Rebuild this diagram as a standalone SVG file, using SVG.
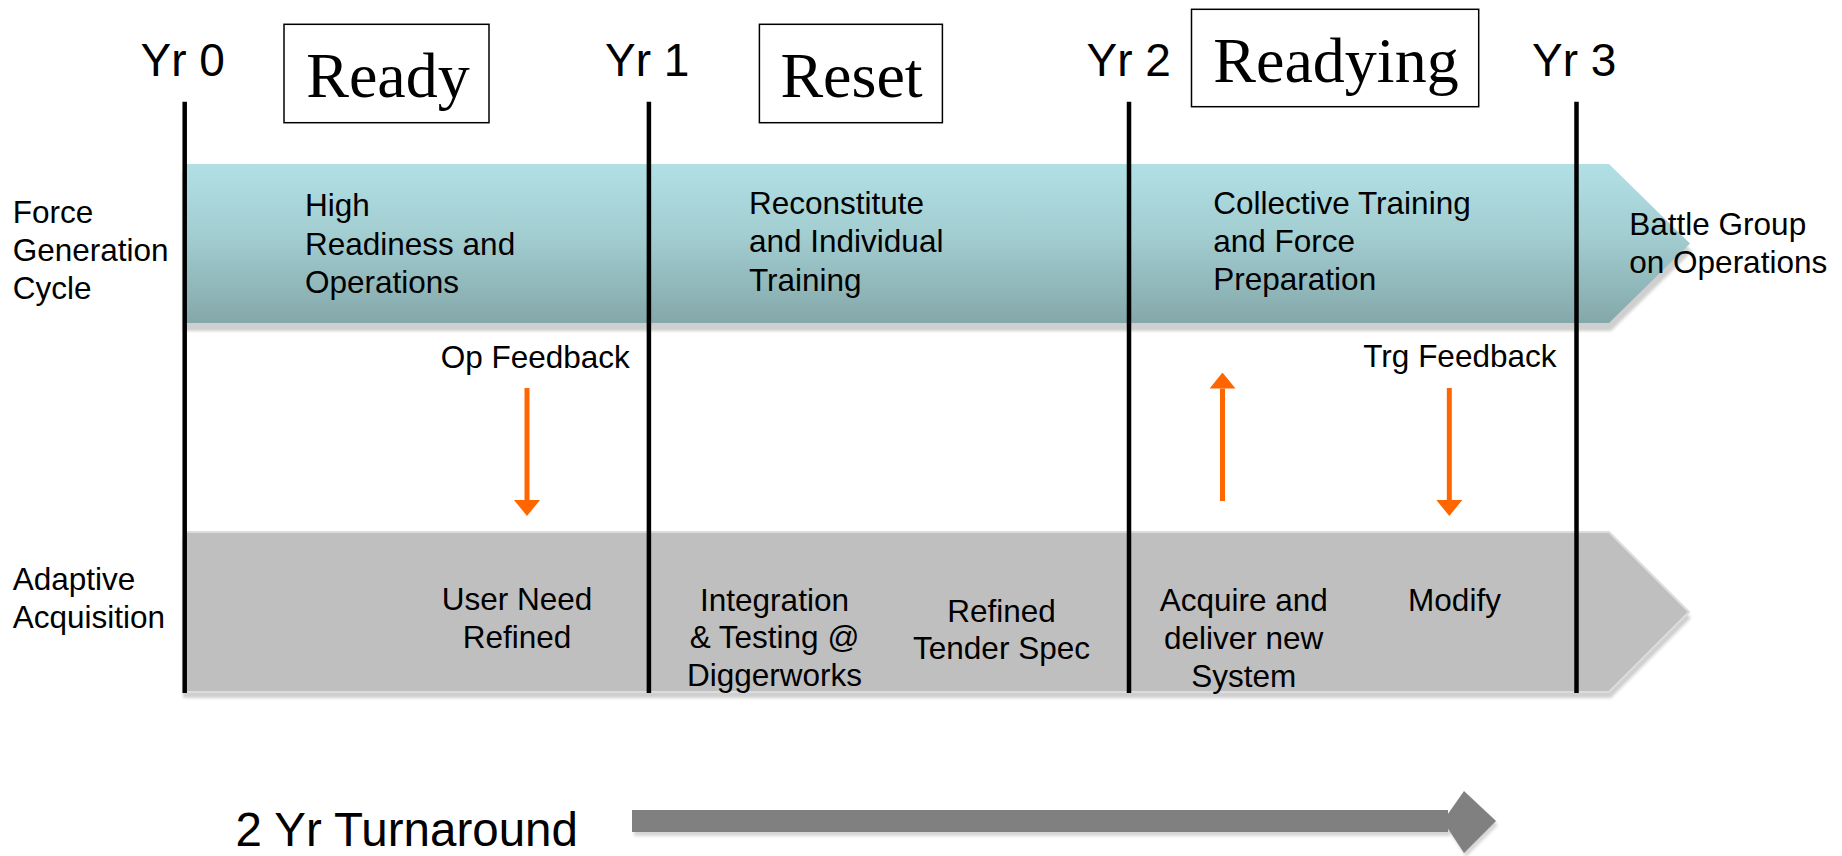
<svg xmlns="http://www.w3.org/2000/svg" width="1842" height="856" viewBox="0 0 1842 856">
  <defs>
    <linearGradient id="teal" x1="0" y1="0" x2="0" y2="1">
      <stop offset="0" stop-color="#B1E0E4"/>
      <stop offset="0.45" stop-color="#A2CDD1"/>
      <stop offset="1" stop-color="#84A8AA"/>
    </linearGradient>
    <filter id="soft" x="-5%" y="-20%" width="110%" height="140%">
      <feGaussianBlur stdDeviation="1.5"/>
    </filter>
    <marker id="head" viewBox="0 0 16 26" refX="0" refY="13" markerWidth="16" markerHeight="26" markerUnits="userSpaceOnUse" orient="auto">
      <path d="M0,0 L16,13 L0,26 Z" fill="#FF6600"/>
    </marker>
  </defs>
  <style>
    .t { font-family: "Liberation Sans", Arial, sans-serif; font-size: 31.5px; fill: #000; }
    .yr { font-family: "Liberation Sans", Arial, sans-serif; font-size: 46px; fill: #000; }
    .big { font-family: "Liberation Sans", Arial, sans-serif; font-size: 47.5px; fill: #000; }
    .ph { font-family: "Liberation Serif", "Times New Roman", serif; font-size: 64px; fill: #000; text-anchor: middle; }
    .box { fill: #fff; stroke: #000; stroke-width: 1.5; }
    .mid { text-anchor: middle; }
    .yl { stroke: #000; stroke-width: 4.5; }
    .fb { stroke: #FF6600; stroke-width: 5; fill: none; marker-end: url(#head); }
    .shadow { fill: #CFCFCF; filter: url(#soft); }
  </style>
  <rect width="1842" height="856" fill="#fff"/>

  <g id="bands">
    <polygon class="shadow" points="183,172 1611,172 1692,251.5 1611,331 183,331"/>
    <polygon id="force-band" points="184,164 1609,164 1690,243.5 1609,323 184,323" fill="url(#teal)"/>
    <polygon class="shadow" points="183,538 1611,538 1691,618 1611,698 183,698"/>
    <polygon id="acq-band" points="184,532 1609,532 1689,612 1609,692 184,692" fill="#BFBFBF" stroke="#DCDCDC" stroke-width="2"/>
  </g>

  <g id="phase-ready">
    <rect class="box" x="284" y="24.3" width="205" height="98.4"/>
    <text class="ph" x="388" y="97">Ready</text>
  </g>
  <g id="phase-reset">
    <rect class="box" x="759.4" y="24.3" width="183" height="98.4"/>
    <text class="ph" x="851.5" y="97">Reset</text>
  </g>
  <g id="phase-readying">
    <rect class="box" x="1191.5" y="9.3" width="287.2" height="97.4"/>
    <text class="ph" x="1336" y="82">Readying</text>
  </g>

  <g id="yr0"><text class="yr" x="140.6" y="76">Yr 0</text><line class="yl" x1="184.7" y1="101.7" x2="184.7" y2="693"/></g>
  <g id="yr1"><text class="yr" x="605" y="76">Yr 1</text><line class="yl" x1="648.9" y1="101.7" x2="648.9" y2="693"/></g>
  <g id="yr2"><text class="yr" x="1086.6" y="76">Yr 2</text><line class="yl" x1="1129" y1="101.7" x2="1129" y2="693"/></g>
  <g id="yr3"><text class="yr" x="1532" y="76">Yr 3</text><line class="yl" x1="1576.5" y1="101.7" x2="1576.5" y2="693"/></g>

  <g id="label-force">
    <text class="t" x="12.7" y="223">Force</text>
    <text class="t" x="12.7" y="261">Generation</text>
    <text class="t" x="12.7" y="299">Cycle</text>
  </g>
  <g id="label-acq">
    <text class="t" x="12.7" y="590">Adaptive</text>
    <text class="t" x="12.7" y="627.5">Acquisition</text>
  </g>

  <g id="high-readiness">
    <text class="t" x="305" y="216">High</text>
    <text class="t" x="305" y="254.5">Readiness and</text>
    <text class="t" x="305" y="292.5">Operations</text>
  </g>
  <g id="reconstitute">
    <text class="t" x="749" y="213.5">Reconstitute</text>
    <text class="t" x="749" y="252">and Individual</text>
    <text class="t" x="749" y="290.5">Training</text>
  </g>
  <g id="collective">
    <text class="t" x="1213.3" y="214">Collective Training</text>
    <text class="t" x="1213.3" y="252">and Force</text>
    <text class="t" x="1213.3" y="290">Preparation</text>
  </g>
  <g id="battle-group">
    <text class="t" x="1629.3" y="235">Battle Group</text>
    <text class="t" x="1629.3" y="273">on Operations</text>
  </g>

  <g id="op-feedback"><text class="t" x="440.7" y="368">Op Feedback</text></g>
  <g id="trg-feedback"><text class="t" x="1363.3" y="367">Trg Feedback</text></g>

  <g id="user-need">
    <text class="t mid" x="517" y="610">User Need</text>
    <text class="t mid" x="517" y="648">Refined</text>
  </g>
  <g id="integration">
    <text class="t mid" x="774.5" y="610.7">Integration</text>
    <text class="t mid" x="774.5" y="648.3">&amp; Testing @</text>
    <text class="t mid" x="774.5" y="686">Diggerworks</text>
  </g>
  <g id="tender">
    <text class="t mid" x="1001.5" y="621.7">Refined</text>
    <text class="t mid" x="1001.5" y="659.3">Tender Spec</text>
  </g>
  <g id="acquire">
    <text class="t mid" x="1243.7" y="610.7">Acquire and</text>
    <text class="t mid" x="1243.7" y="648.6">deliver new</text>
    <text class="t mid" x="1243.7" y="686.8">System</text>
  </g>
  <g id="modify"><text class="t mid" x="1454.5" y="610.7">Modify</text></g>

  <g id="connectors">
    <line class="fb" x1="527" y1="388" x2="527" y2="500"/>
    <line class="fb" x1="1222.5" y1="501" x2="1222.5" y2="388.5"/>
    <line class="fb" x1="1449.3" y1="388" x2="1449.3" y2="500"/>
  </g>

  <g id="turnaround">
    <text class="big" x="235.5" y="846">2 Yr Turnaround</text>
    <g transform="translate(2,4)" fill="#D6D6D6" filter="url(#soft)">
      <rect x="632" y="810" width="816" height="22"/>
      <polygon points="1443,821 1464,791 1496,821 1464,853"/>
    </g>
    <rect x="632" y="810" width="816" height="22" fill="#808080"/>
    <polygon points="1443,821 1464,791 1496,821 1464,853" fill="#808080"/>
  </g>
</svg>
